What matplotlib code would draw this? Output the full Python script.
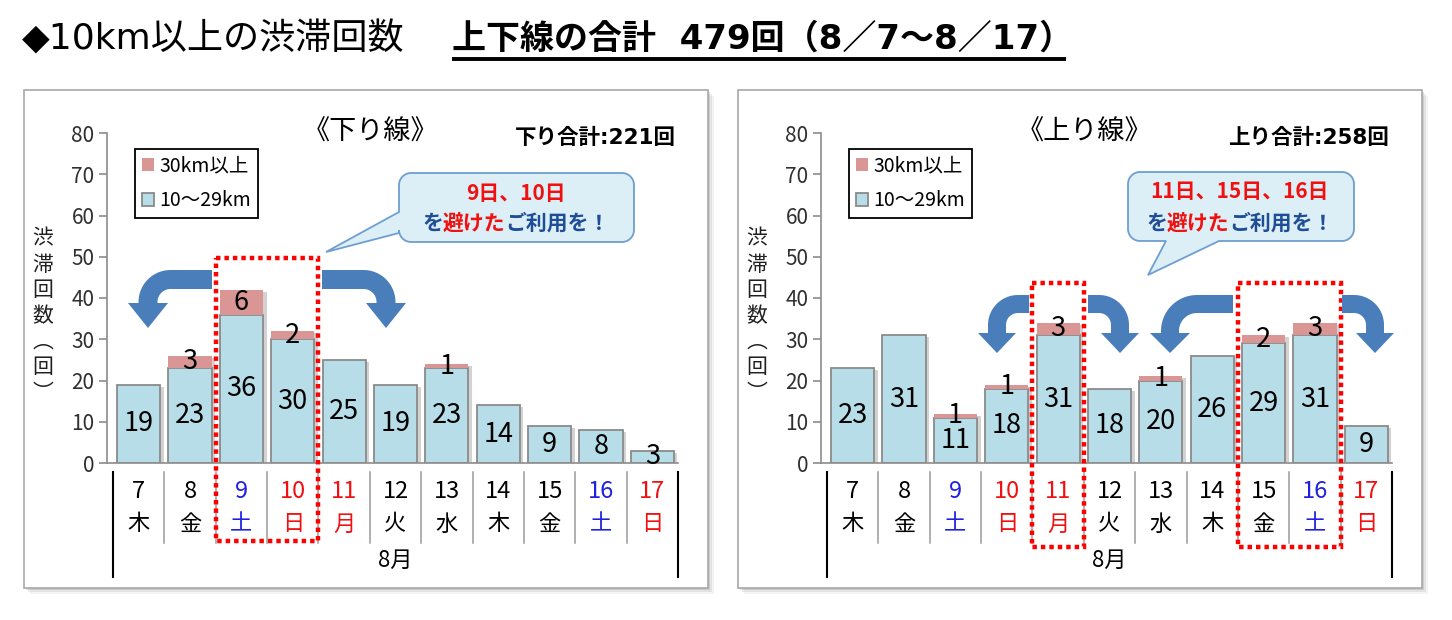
import matplotlib
matplotlib.use("Agg")
import matplotlib.pyplot as plt
from matplotlib.patches import Rectangle, Polygon
from matplotlib.offsetbox import TextArea, HPacker, AnnotationBbox
from matplotlib.transforms import blended_transform_factory
import numpy as np

plt.rcParams["font.family"] = ["Noto Sans CJK JP", "DejaVu Sans"]
WIDE_DIGITS = ["DejaVu Sans", "Noto Sans CJK JP"]

# -- data ---------------------------------------------------------------------
days = ["7", "8", "9", "10", "11", "12", "13", "14", "15", "16", "17"]
weekdays = ["木", "金", "土", "日", "月", "火", "水", "木", "金", "土", "日"]
red_days = ["10", "11", "17"]
blue_days = ["9", "16"]

down_short = [19, 23, 36, 30, 25, 19, 23, 14, 9, 8, 3]
down_long = [0, 3, 6, 2, 0, 0, 1, 0, 0, 0, 0]
up_short = [23, 31, 11, 18, 31, 18, 20, 26, 29, 31, 9]
up_long = [0, 0, 1, 1, 3, 0, 1, 0, 2, 3, 0]

series_labels = ["30km以上", "10～29km"]
yticks = [0, 10, 20, 30, 40, 50, 60, 70, 80]

# -- colours --------------------------------------------------------------------
BLUE_BAR = "#B7DEE8"
PINK_BAR = "#D99694"
BAR_EDGE = "#8A8A8A"
ARROW = "#4A7EBB"
RED = "#F01010"
BLUE_TXT = "#2020E0"
NAVY_TXT = "#1F4E96"
GRID_GRAY = "#8C8C8C"

W, H = 1452, 620
PANEL_DX = 714          # right panel is shifted copy of left one
PITCH = 51.4            # px per category

fig = plt.figure(figsize=(W / 100, H / 100), dpi=100)
fig.patch.set_facecolor("white")

bg = fig.add_axes([0, 0, 1, 1], zorder=0)
ov = fig.add_axes([0, 0, 1, 1], zorder=5)
for a in (bg, ov):
    a.set_xlim(0, W)
    a.set_ylim(H, 0)
    a.axis("off")
    a.set_autoscale_on(False)
ov.patch.set_alpha(0)


def bent_arrow(x_start, x_out, y_top, t, R, y_head, tip_y, head_w):
    s = np.sign(x_out - x_start)
    cx, cy = x_out - s * R, y_top + R
    ang = np.linspace(-np.pi / 2, 0, 24)
    outer = [(cx + s * R * np.cos(a), cy + R * np.sin(a)) for a in ang]
    ri = R - t
    inner = [(cx + s * ri * np.cos(a), cy + ri * np.sin(a)) for a in ang[::-1]]
    xc = x_out - s * t / 2
    pts = ([(x_start, y_top)] + outer +
           [(x_out, y_head), (xc + s * head_w / 2, y_head), (xc, tip_y),
            (xc - s * head_w / 2, y_head), (x_out - s * t, y_head)] +
           inner + [(x_start, y_top + t)])
    ov.add_patch(Polygon(pts, closed=True, fc=ARROW, ec="none", zorder=6))


def bubble(x0, y0, x1, y1, r, tail, side):
    """Rounded box with a pointer; tail = (a, b, tip) along given side."""
    def arc(cx, cy, a0, a1):
        t = np.linspace(np.radians(a0), np.radians(a1), 12)
        return [(cx + r * np.cos(v), cy + r * np.sin(v)) for v in t]
    a, b, tip = tail
    pts = [(x0 + r, y0), (x1 - r, y0)]
    pts += arc(x1 - r, y0 + r, -90, 0)
    pts += [(x1, y1 - r)]
    pts += arc(x1 - r, y1 - r, 0, 90)
    if side == "bottom":
        pts += [(b, y1), tip, (a, y1)]
    pts += [(x0 + r, y1)]
    pts += arc(x0 + r, y1 - r, 90, 180)
    if side == "left":
        pts += [(x0, b), tip, (x0, a)]
    pts += [(x0, y0 + r)]
    pts += arc(x0 + r, y0 + r, 180, 270)
    ov.add_patch(Polygon(pts, closed=True, fc="#DCEEF6", ec="#6E9FD0",
                         lw=1.3, zorder=6))


def callout_text(cx, y1, y2, first, pieces):
    ov.text(cx, y1, first, ha="center", va="center", fontsize=15,
            fontweight="bold", color=RED, zorder=7)
    areas = [TextArea(txt, textprops=dict(fontsize=15, fontweight="bold",
                                          color=col,
                                          family=["Noto Sans CJK JP", "DejaVu Sans"]))
             for txt, col in pieces]
    pack = HPacker(children=areas, pad=0, sep=0, align="baseline")
    ab = AnnotationBbox(pack, (cx, y2), xycoords="data", frameon=False,
                        box_alignment=(0.5, 0.5), pad=0, zorder=7)
    ov.add_artist(ab)


def panel(dx, short, long, title, total_text):
    # frame with soft shadow
    for k, al in ((6, 0.10), (4, 0.18), (2, 0.30)):
        bg.add_patch(Rectangle((24 + dx + k, 90 + k), 684, 498,
                               fc="#9A9A9A", ec="none", alpha=al))
    bg.add_patch(Rectangle((24 + dx, 90), 684, 498, fc="white",
                           ec="#A8A8A8", lw=1.2))

    left_px, right_px = 107 + dx, 678 + dx
    ax = fig.add_axes([left_px / W, (H - 463) / H,
                       (right_px - left_px) / W, 330 / H], zorder=2)
    ax.patch.set_alpha(0)
    x = np.arange(len(days))
    short = np.array(short)
    long = np.array(long)
    total = short + long

    ax.bar(x + 0.07, total - 0.5, width=0.84, color="#D2D2D2", lw=0, zorder=1)
    blue = ax.bar(x, short, width=0.84, color=BLUE_BAR, edgecolor=BAR_EDGE,
                  lw=1.3, zorder=2)
    pink = ax.bar(x, long, width=0.84, bottom=short, color=PINK_BAR,
                  edgecolor="none", zorder=2)
    for i in range(len(days)):
        ax.text(i, short[i] / 2, str(short[i]), ha="center", va="center",
                fontsize=19.5, color="black", zorder=4)
        if long[i] > 0:
            ax.text(i, short[i] + long[i] / 2, str(long[i]), ha="center",
                    va="center", fontsize=19.5, color="black", zorder=4)

    ax.set_xlim(-0.5 - 6 / PITCH, len(days) - 0.5)
    ax.set_ylim(0, 80)
    ax.set_yticks(yticks)
    ax.set_xticks([])
    for sp in ("top", "right"):
        ax.spines[sp].set_visible(False)
    for sp in ("left", "bottom"):
        ax.spines[sp].set_color(GRID_GRAY)
        ax.spines[sp].set_linewidth(1.2)
    ax.tick_params(axis="y", direction="out", length=6, width=1.2,
                   color=GRID_GRAY, labelsize=15, labelcolor="#303030", pad=3)

    # category axis below the plot
    tr = blended_transform_factory(ax.transData, ov.transData)
    for i, (d, wd) in enumerate(zip(days, weekdays)):
        col = RED if d in red_days else BLUE_TXT if d in blue_days else "black"
        ax.text(i, 491, d, transform=tr, ha="center", va="center",
                fontsize=17, color=col)
        ax.text(i, 524, wd, transform=tr, ha="center", va="center",
                fontsize=16, color=col)
    for b in np.arange(0.5, len(days) - 1, 1.0):
        ax.plot([b, b], [472, 543], transform=tr, clip_on=False,
                color="#9A9A9A", lw=1.1)
    for b in (-0.5, len(days) - 0.5):
        ax.plot([b, b], [472, 577], transform=tr, clip_on=False,
                color="black", lw=1.5)
    ax.text((len(days) - 1) / 2, 560, "8月", transform=tr, ha="center",
            va="center", fontsize=16, color="black")

    # y label
    ov.text(43 + dx, 316, "渋\n滞\n回\n数\n︵\n回\n︶", ha="center",
            va="center", fontsize=15, linespacing=1.22, color="#202020")

    ov.text(370 + dx, 132, title, ha="center", va="center", fontsize=19.5,
            color="black")
    ov.text(595 + dx, 138, total_text, ha="center", va="center",
            fontsize=15.5, fontweight="bold", color="black",
            family=WIDE_DIGITS)

    ax.legend([pink, blue], series_labels, loc="upper left",
              bbox_to_anchor=(135 + dx, 149), bbox_transform=ov.transData,
              fontsize=14, frameon=True, fancybox=False, framealpha=1,
              edgecolor="black", borderpad=0.35, handlelength=0.65,
              handleheight=0.65, handletextpad=0.25, labelspacing=0.7,
              borderaxespad=0)
    ax.get_legend().get_frame().set_linewidth(1.3)
    return ax, tr


def avoid_box(tr, i0, i1, y_top, y_bot):
    ov.add_patch(Rectangle((i0 - 0.5, y_top), i1 - i0 + 1, y_bot - y_top,
                           transform=tr, fill=False, ec="#FF0000", lw=3.2,
                           linestyle=(0, (1, 0.9)), zorder=6))


# -- left panel: 下り線 ----------------------------------------------------------
axL, trL = panel(0, down_short, down_long, "《下り線》", "下り合計:221回")
avoid_box(trL, 2, 3, 258, 541)
bent_arrow(212, 138.5, 270, 19, 32, 303, 328, 40)
bent_arrow(322, 395.5, 270, 19, 32, 303, 328, 40)
bubble(399, 173, 634, 242, 12, (212, 233, (326, 252)), "left")
callout_text(516, 193, 223, "9日、10日",
             [("を", NAVY_TXT), ("避けた", RED), ("ご利用を！", NAVY_TXT)])

# -- right panel: 上り線 ---------------------------------------------------------
axR, trR = panel(PANEL_DX, up_short, up_long, "《上り線》", "上り合計:258回")
avoid_box(trR, 4, 4, 283, 547)
avoid_box(trR, 8, 9, 283, 547)
bent_arrow(1029, 988, 295, 18, 30, 333, 353, 38)
bent_arrow(1088, 1129, 295, 18, 30, 333, 353, 38)
bent_arrow(1233, 1161, 295, 18, 36, 333, 353, 40)
bent_arrow(1342, 1384, 295, 18, 30, 333, 353, 38)
bubble(1128, 172, 1354, 241, 12, (1166, 1219, (1148, 275)), "bottom")
callout_text(1240, 192, 223, "11日、15日、16日",
             [("を", NAVY_TXT), ("避けた", RED), ("ご利用を！", NAVY_TXT)])

# -- header ---------------------------------------------------------------------
ov.text(22, 39, "◆10km以上の渋滞回数", ha="left", va="center",
        fontsize=26, color="black", family=WIDE_DIGITS)
ov.text(452, 39, "上下線の合計  479回（8／7～8／17）", ha="left",
        va="center", fontsize=24.5, fontweight="bold", color="black",
        family=WIDE_DIGITS)
ov.plot([452, 1066], [59, 59], color="black", lw=2.8, solid_capstyle="butt")

fig.savefig("out.png", dpi=100, facecolor="white")
